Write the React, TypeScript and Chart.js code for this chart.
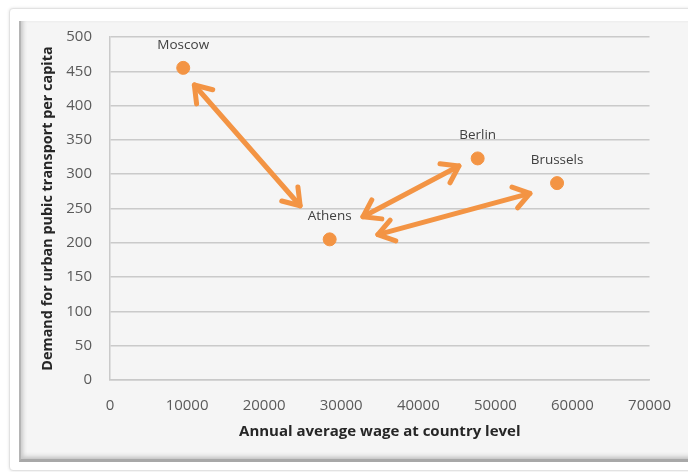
import React, { useEffect, useRef } from "react";
import { Chart, registerables } from "chart.js";

Chart.register(...registerables);

const cities = ["Moscow", "Athens", "Berlin", "Brussels"];
const wages = [9500, 28500, 47700, 58000];
const demand = [455, 205, 323, 287];

// double-headed arrows, in data units
const arrowFromX = [10940, 32820, 34750];
const arrowFromY = [430, 238, 212];
const arrowToX = [24670, 45260, 54480];
const arrowToY = [254, 312, 272];

const xMin = 0;
const xMax = 70000;
const xStep = 10000;
const yMin = 0;
const yMax = 500;
const yStep = 50;

const xTitle = "Annual average wage at country level";
const yTitle = "Demand for urban pubic transport per capita";

const ORANGE = "#f39444";

function drawHead(ctx: CanvasRenderingContext2D, tx: number, ty: number, fx: number, fy: number) {
  const ang = Math.atan2(ty - fy, tx - fx);
  const len = 19;
  const spread = 0.6;
  ctx.beginPath();
  ctx.moveTo(tx - len * Math.cos(ang - spread), ty - len * Math.sin(ang - spread));
  ctx.lineTo(tx, ty);
  ctx.lineTo(tx - len * Math.cos(ang + spread), ty - len * Math.sin(ang + spread));
  ctx.stroke();
}

const overlayPlugin = {
  id: "overlay",
  afterDatasetsDraw(chart: any) {
    const ctx = chart.ctx as CanvasRenderingContext2D;
    const xs = chart.scales.x;
    const ys = chart.scales.y;
    ctx.save();
    ctx.strokeStyle = ORANGE;
    ctx.lineWidth = 5;
    ctx.lineCap = "round";
    ctx.lineJoin = "round";
    for (let i = 0; i < arrowFromX.length; i++) {
      const x1 = xs.getPixelForValue(arrowFromX[i]);
      const y1 = ys.getPixelForValue(arrowFromY[i]);
      const x2 = xs.getPixelForValue(arrowToX[i]);
      const y2 = ys.getPixelForValue(arrowToY[i]);
      ctx.beginPath();
      ctx.moveTo(x1, y1);
      ctx.lineTo(x2, y2);
      ctx.stroke();
      drawHead(ctx, x1, y1, x2, y2);
      drawHead(ctx, x2, y2, x1, y1);
    }
    const meta = chart.getDatasetMeta(0);
    ctx.fillStyle = "#404040";
    ctx.font = "13.5px 'Open Sans'";
    ctx.textAlign = "center";
    ctx.textBaseline = "middle";
    meta.data.forEach((pt: any, i: number) => {
      ctx.fillText(cities[i], pt.x, pt.y - 23);
    });
    ctx.restore();
  },
};

export default function App() {
  const ref = useRef<HTMLCanvasElement | null>(null);
  useEffect(() => {
    if (!ref.current) return;
    const chart = new Chart(ref.current, {
      type: "scatter",
      data: {
        datasets: [
          {
            label: "cities",
            data: wages.map((w, i) => ({ x: w, y: demand[i] })),
            backgroundColor: ORANGE,
            borderColor: ORANGE,
            pointRadius: 6.5,
            pointHoverRadius: 6.5,
          },
        ],
      },
      options: {
        animation: false,
        responsive: false,
        devicePixelRatio: 1,
        layout: { padding: { left: 0, top: 37, right: 34, bottom: 0 } },
        plugins: { legend: { display: false }, tooltip: { enabled: false } },
        scales: {
          x: {
            type: "linear",
            min: xMin,
            max: xMax,
            ticks: {
              stepSize: xStep,
              padding: 17,
              color: "#5a5a5a",
              font: { family: "'Open Sans'", size: 15 },
              maxRotation: 0,
              callback: (v: any) => String(v),
            },
            grid: { display: false, drawTicks: false },
            border: { display: true, color: "#c9c9c9", width: 1.5 },
            title: {
              display: true,
              text: xTitle,
              color: "#262626",
              font: { family: "'Open Sans'", size: 15, weight: "bold" },
              padding: { top: 0, bottom: 31 },
            },
            afterFit: (s: any) => {
              s.height = 92;
            },
          },
          y: {
            type: "linear",
            min: yMin,
            max: yMax,
            ticks: {
              stepSize: yStep,
              padding: 18,
              color: "#5a5a5a",
              font: { family: "'Open Sans'", size: 15 },
            },
            grid: { display: true, drawTicks: false, color: "#cacaca", lineWidth: 1.5 },
            border: { display: true, color: "#cacaca", width: 1.5 },
            title: {
              display: true,
              text: yTitle,
              color: "#262626",
              font: { family: "'Open Sans'", size: 14.4, weight: "bold" },
              padding: { top: 39, bottom: 0 },
            },
            afterFit: (s: any) => {
              s.width = 110;
            },
          },
        },
      },
      plugins: [overlayPlugin],
    });
    return () => chart.destroy();
  }, []);

  return (
    <div style={{ position: "absolute", left: 0, top: 0, width: 688, height: 472, overflow: "hidden", background: "#ffffff" }}>
      <div
        style={{
          position: "absolute",
          left: 9,
          top: 8,
          width: 700,
          height: 461,
          background: "#ffffff",
          border: "1px solid #e2e2e2",
          borderRadius: 4,
          boxShadow: "0 0 3px rgba(0,0,0,0.12)",
        }}
      />
      <div
        style={{
          position: "absolute",
          left: 19,
          top: 21,
          width: 690,
          height: 438,
          background: "#f5f5f5",
          borderLeft: "2px solid #b4b4b4",
          borderBottom: "3px solid #a8a8a8",
          boxShadow: "inset 4px 0 4px -2px #c8c8c8, inset 0 -5px 5px -3px #bdbdbd",
        }}
      />
      <canvas ref={ref} width={688} height={472} style={{ position: "absolute", left: 0, top: 0 }} />
    </div>
  );
}
